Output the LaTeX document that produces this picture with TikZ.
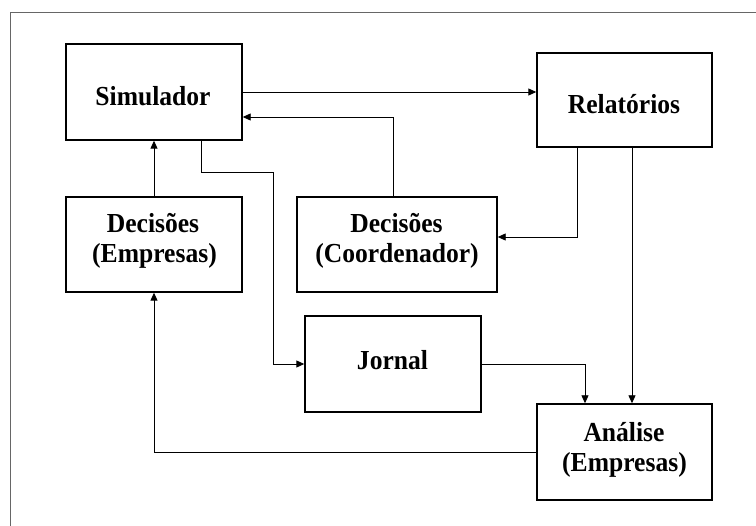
\documentclass[tikz,border=0pt]{standalone}
\usepackage{fontspec}
\setmainfont{Liberation Serif}[FakeStretch=0.93]
\usetikzlibrary{arrows.meta}
\begin{document}
\begin{tikzpicture}[x=1pt,y=-1pt,
  box/.style={draw,line width=1.4pt,inner sep=0pt},
  lbl/.style={anchor=base,inner sep=0pt,font=\fontsize{27.5}{27.5}\selectfont\bfseries},
  arr/.style={line width=0.9pt,-{Triangle[length=8pt,width=7pt]}},
  frame/.style={draw=gray!80!black,line width=0.9pt}]
\useasboundingbox (0,0) rectangle (756,526);
\draw[frame] (10,526) -- (10,12) -- (756,12);
% boxes
\node[box,minimum width=176pt,minimum height=96pt] (sim) at (154,92) {};
\node[box,minimum width=175pt,minimum height=94pt] (rel) at (624.5,100) {};
\node[box,minimum width=176pt,minimum height=95pt] (dece) at (154,244.5) {};
\node[box,minimum width=200pt,minimum height=95pt] (decc) at (397,244.5) {};
\node[box,minimum width=176pt,minimum height=96pt] (jor) at (393,364) {};
\node[box,minimum width=175pt,minimum height=96pt] (ana) at (624.5,452) {};
% labels
\node[lbl] (simt) at (153,106) {Simulador};
\node[lbl] (relt) at (624,114) {Relatórios};
\node[lbl] (dece1) at (153,233) {Decisões};
\node[lbl] (dece2) at (154.5,263) {(Empresas)};
\node[lbl] (decc1) at (396.5,233) {Decisões};
\node[lbl] (decc2) at (397,263) {(Coordenador)};
\node[lbl] (jort) at (392.5,370) {Jornal};
\node[lbl] (ana1) at (624,442) {Análise};
\node[lbl] (ana2) at (624.5,472) {(Empresas)};
% connectors
\coordinate (b1) at (273,172);
\coordinate (b2) at (393,117);
\draw[arr] (sim.east) -- (sim.east -| rel.west);
\draw[arr] ([xshift=-4pt]decc.north) |- (b2) -- (b2 -| sim.east);
\draw[arr] (dece.north) -- (sim.south);
\draw[arr] ([xshift=47pt]sim.south) |- (b1) |- (jor.west);
\draw[arr] ([xshift=-47.5pt]rel.south) |- ([yshift=7.5pt]decc.east);
\draw[arr] ([xshift=7.5pt]rel.south) -- ([xshift=7.5pt]ana.north);
\draw[arr] (jor.east) -| ([xshift=-39.5pt]ana.north);
\draw[arr] (ana.west) -| (dece.south);
\end{tikzpicture}
\end{document}
